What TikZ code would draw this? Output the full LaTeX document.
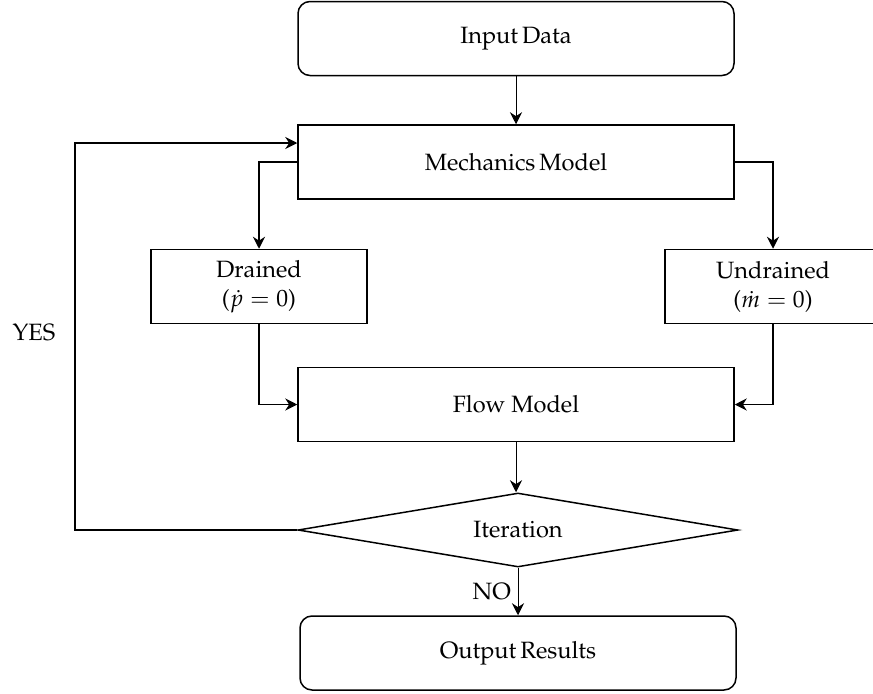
\documentclass[tikz,border=0pt]{standalone}
\usepackage[T1]{fontenc}
\usepackage{mathpazo}
\usetikzlibrary{shapes.geometric,arrows.meta}

\begin{document}
\begin{tikzpicture}[
    x=0.5pt, y=0.5pt,
    font=\fontsize{11.8}{14.5}\selectfont,
    >={Stealth[length=6pt,width=6pt]},
    box/.style={draw, line width=0.75pt, minimum width=218pt, minimum height=37pt, align=center},
    endbox/.style={box, rounded corners=6pt},
    sidebox/.style={box, minimum width=108pt},
    decision/.style={draw, line width=0.75pt, diamond, aspect=6, minimum width=220pt, minimum height=37pt, inner sep=0pt},
    link/.style={->, line width=0.75pt},
    thinlink/.style={->, line width=0.5pt}
]
\useasboundingbox (0,0) rectangle (873,693);

\node[endbox] (input) at (516,654.5) {Input\,Data};
\node[box] (mech) at (516,531) {Mechanics\,Model};
\node[sidebox] (drained) at (259,406.5) {Drained\\($\dot{p}=0$)};
\node[sidebox] (undrained) at (773,406.5) {Undrained\\($\dot{m}=0$)};
\node[box] (flow) at (516,288.5) {Flow Model};
\node[decision] (iter) at (518,163) {Iteration};
\node[endbox] (output) at (518,40) {Output\,Results};

\coordinate (loop) at (75,163);
\node (yes) at (34,360) {YES};

\draw[thinlink] (input) -- (mech);
\draw[link] (mech.west) -| (drained.north);
\draw[link] (mech.east) -| (undrained.north);
\draw[link] (drained.south) |- (flow.west);
\draw[link] (undrained.south) |- (flow.east);
\draw[thinlink] (flow.south) -- (flow.south |- iter.north);
\draw[link] (iter.west) -- (loop) |- ([yshift=9.5pt]mech.west);
\draw[thinlink] (iter.south) -- node[left] {NO} (iter.south |- output.north);
\end{tikzpicture}
\end{document}
